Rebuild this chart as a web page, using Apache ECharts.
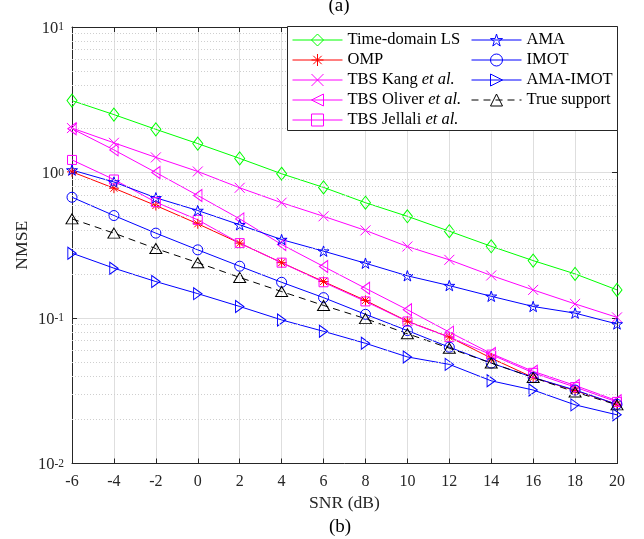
<!DOCTYPE html>
<html>
<head>
<meta charset="utf-8">
<script src="https://cdn.jsdelivr.net/npm/echarts@6/dist/echarts.min.js"></script>
<style>
  html, body { margin: 0; padding: 0; background: #ffffff; }
  #chart { width: 644px; height: 539px; }
</style>
</head>
<body>
<div id="chart"></div>
<script>
// SNR sweep (dB)
const snr = [-6, -4, -2, 0, 2, 4, 6, 8, 10, 12, 14, 16, 18, 20];

// NMSE per estimator
const timeDomainLS = [3.12, 2.50, 1.98, 1.58, 1.25, 0.98, 0.79, 0.62, 0.50, 0.395, 0.311, 0.248, 0.201, 0.156];
const omp          = [1.01, 0.78, 0.593, 0.444, 0.327, 0.24, 0.178, 0.132, 0.095, 0.074, 0.053, 0.039, 0.0317, 0.0255];
const tbsKang      = [2.02, 1.60, 1.27, 1.016, 0.785, 0.62, 0.50, 0.40, 0.31, 0.251, 0.196, 0.156, 0.125, 0.101];
const tbsOliver    = [2.00, 1.43, 1.00, 0.695, 0.48, 0.32, 0.226, 0.16, 0.114, 0.080, 0.057, 0.043, 0.0344, 0.027];
const tbsJellali   = [1.22, 0.895, 0.625, 0.473, 0.327, 0.24, 0.176, 0.13, 0.0946, 0.0738, 0.056, 0.042, 0.0335, 0.0265];
const ama          = [1.04, 0.86, 0.67, 0.548, 0.437, 0.346, 0.288, 0.238, 0.195, 0.167, 0.141, 0.12, 0.108, 0.091];
const imot         = [0.676, 0.506, 0.383, 0.294, 0.227, 0.176, 0.138, 0.106, 0.082, 0.063, 0.049, 0.039, 0.032, 0.0255];
const amaImot      = [0.279, 0.22, 0.178, 0.147, 0.12, 0.097, 0.081, 0.067, 0.054, 0.048, 0.037, 0.032, 0.0253, 0.0216];
const trueSupport  = [0.48, 0.383, 0.30, 0.24, 0.19, 0.152, 0.122, 0.099, 0.078, 0.062, 0.049, 0.039, 0.031, 0.0253];

// Axis ticks
const xTicks = { min: -6, max: 20, step: 2 };
const yRange = { min: 0.01, max: 10 };
const yMinorGrid = [0.02, 0.03, 0.04, 0.05, 0.06, 0.07, 0.08, 0.09,
                    0.2, 0.3, 0.4, 0.5, 0.6, 0.7, 0.8, 0.9,
                    2, 3, 4, 5, 6, 7, 8, 9];

const SERIF = 'Liberation Serif, Times New Roman, serif';
const AXIS_COLOR = '#262626';

// Marker outlines
const SYM_X = 'path://M0,0L10,10M10,0L0,10';
const SYM_ASTERISK = 'path://M5,0L5,10M0,5L10,5M1.5,1.5L8.5,8.5M8.5,1.5L1.5,8.5';
const SYM_STAR = 'path://M5,0L6.123,3.455L9.755,3.455L6.816,5.59L7.939,9.045L5,6.91L2.061,9.045L3.184,5.59L0.245,3.455L3.877,3.455Z';
const SYM_LEFT = 'path://M0,6L10,0L10,12Z';
const SYM_RIGHT = 'path://M10,6L0,0L0,12Z';

const curveDefs = [
  { name: 'Time-domain LS', values: timeDomainLS, color: '#00ff00', symbol: 'diamond', size: [10, 13] },
  { name: 'OMP', values: omp, color: '#ff0000', symbol: SYM_ASTERISK, size: 10 },
  { name: 'TBS Kang et al.', values: tbsKang, color: '#ff00ff', symbol: SYM_X, size: 10 },
  { name: 'TBS Oliver et al.', values: tbsOliver, color: '#ff00ff', symbol: SYM_LEFT, size: [10, 12] },
  { name: 'TBS Jellali et al.', values: tbsJellali, color: '#ff00ff', symbol: 'rect', size: 9 },
  { name: 'AMA', values: ama, color: '#0000ff', symbol: SYM_STAR, size: 11 },
  { name: 'IMOT', values: imot, color: '#0000ff', symbol: 'circle', size: 10 },
  { name: 'AMA-IMOT', values: amaImot, color: '#0000ff', symbol: SYM_RIGHT, size: [10, 12] },
  { name: 'True support', values: trueSupport, color: '#000000', symbol: 'triangle', size: [12, 10], dashed: true }
];

function curve(d) {
  return {
    name: d.name,
    type: 'line',
    data: snr.map((x, i) => [x, d.values[i]]),
    symbol: d.symbol,
    symbolSize: d.size,
    symbolKeepAspect: true,
    showAllSymbol: true,
    lineStyle: { color: d.color, width: 1, type: d.dashed ? [7, 5] : 'solid' },
    itemStyle: { color: 'none', borderColor: d.color, borderWidth: 1 },
    emphasis: { disabled: true },
    silent: true,
    animation: false,
    z: 3
  };
}

// Dotted minor grid of the log axis
const minorGrid = {
  name: 'minor-grid',
  type: 'line',
  data: [],
  silent: true,
  animation: false,
  z: 1,
  markLine: {
    silent: true,
    animation: false,
    symbol: ['none', 'none'],
    label: { show: false },
    emphasis: { disabled: true },
    lineStyle: { type: [1, 2], color: '#cfcfcf', width: 1 },
    data: yMinorGrid.map(v => ({ yAxis: v }))
  }
};

function legendLabel(name) {
  const m = name.match(/^(.*) (et al\.)$/);
  return m ? '{n|' + m[1] + ' }{i|' + m[2] + '}' : '{n|' + name + '}';
}

const legendText = {
  fontFamily: SERIF, fontSize: 16.5, color: '#000', lineHeight: 20,
  rich: {
    n: { fontFamily: SERIF, fontSize: 16.5, color: '#000', lineHeight: 20 },
    i: { fontFamily: SERIF, fontSize: 16.5, color: '#000', lineHeight: 20, fontStyle: 'italic' }
  }
};

function legendColumn(left, from, to) {
  return {
    show: true, orient: 'vertical', left: left, top: 30, padding: 0, itemGap: 0,
    itemWidth: 50, itemHeight: 15, selectedMode: false, z: 10,
    data: curveDefs.slice(from, to).map(d => ({
      name: d.name,
      itemStyle: { color: 'none', borderColor: d.color, borderWidth: 1 },
      lineStyle: { color: d.color, width: 1, type: d.dashed ? [7, 5] : 'solid' }
    })),
    formatter: legendLabel, textStyle: legendText
  };
}

const option = {
  backgroundColor: '#ffffff',
  animation: false,
  grid: { left: 72, right: 27, top: 27, bottom: 75.5, containLabel: false },
  legend: [legendColumn(292, 0, 5), legendColumn(471, 5, 9)],
  xAxis: [
    {
      type: 'value', min: xTicks.min, max: xTicks.max, interval: xTicks.step,
      name: 'SNR (dB)', nameLocation: 'middle', nameGap: 30,
      nameTextStyle: { fontFamily: SERIF, fontSize: 17.6, color: AXIS_COLOR },
      axisLine: { onZero: false, lineStyle: { color: AXIS_COLOR, width: 1 } },
      axisTick: { inside: true, length: 5, lineStyle: { color: AXIS_COLOR } },
      axisLabel: { fontFamily: SERIF, fontSize: 16, color: AXIS_COLOR, margin: 10 },
      splitLine: { show: true, lineStyle: { color: '#dedede', width: 1 } }
    },
    {
      type: 'value', position: 'top', min: xTicks.min, max: xTicks.max, interval: xTicks.step,
      axisLine: { onZero: false, lineStyle: { color: AXIS_COLOR, width: 1 } },
      axisTick: { inside: true, length: 5, lineStyle: { color: AXIS_COLOR } },
      axisLabel: { show: false },
      splitLine: { show: false }
    }
  ],
  yAxis: [
    {
      type: 'log', logBase: 10, min: yRange.min, max: yRange.max, position: 'left',
      name: 'NMSE', nameLocation: 'middle', nameGap: 41, nameRotate: 90, nameMoveOverlap: false,
      nameTextStyle: { fontFamily: SERIF, fontSize: 17.6, color: AXIS_COLOR },
      axisLine: { show: true, onZero: false, lineStyle: { color: AXIS_COLOR, width: 1 } },
      axisTick: { show: true, inside: true, length: 5, lineStyle: { color: AXIS_COLOR } },
      axisLabel: {
        margin: 8, padding: [4, 0, 0, 0],
        formatter: v => '{b|10}{s|' + Math.round(Math.log10(v)) + '}',
        rich: {
          b: { fontFamily: SERIF, fontSize: 16.5, color: AXIS_COLOR, lineHeight: 16, padding: [3, 0, 0, 0], verticalAlign: 'bottom' },
          s: { fontFamily: SERIF, fontSize: 11.5, color: AXIS_COLOR, lineHeight: 11, verticalAlign: 'top' }
        }
      },
      splitLine: { show: true, lineStyle: { color: '#dedede', width: 1 } }
    },
    {
      type: 'log', logBase: 10, min: yRange.min, max: yRange.max, position: 'right',
      axisLine: { show: true, onZero: false, lineStyle: { color: AXIS_COLOR, width: 1 } },
      axisTick: { show: true, inside: true, length: 5, lineStyle: { color: AXIS_COLOR } },
      axisLabel: { show: false },
      splitLine: { show: false }
    }
  ],
  graphic: {
    elements: [
      {
        type: 'rect', z: 8, silent: true,
        shape: { x: 287.5, y: 26.5, width: 330, height: 104 },
        style: { fill: '#ffffff', stroke: AXIS_COLOR, lineWidth: 1 }
      },
      {
        type: 'text', silent: true, x: 339, y: 6,
        style: { text: '(a)', fontFamily: SERIF, fontSize: 19, fill: '#000', align: 'center', verticalAlign: 'middle' }
      },
      {
        type: 'text', silent: true, x: 340, y: 527,
        style: { text: '(b)', fontFamily: SERIF, fontSize: 19, fill: '#000', align: 'center', verticalAlign: 'middle' }
      }
    ]
  },
  series: [minorGrid].concat(curveDefs.map(curve))
};

const chart = echarts.init(document.getElementById('chart'), null, { renderer: 'canvas' });
chart.setOption(option);
</script>
</body>
</html>
